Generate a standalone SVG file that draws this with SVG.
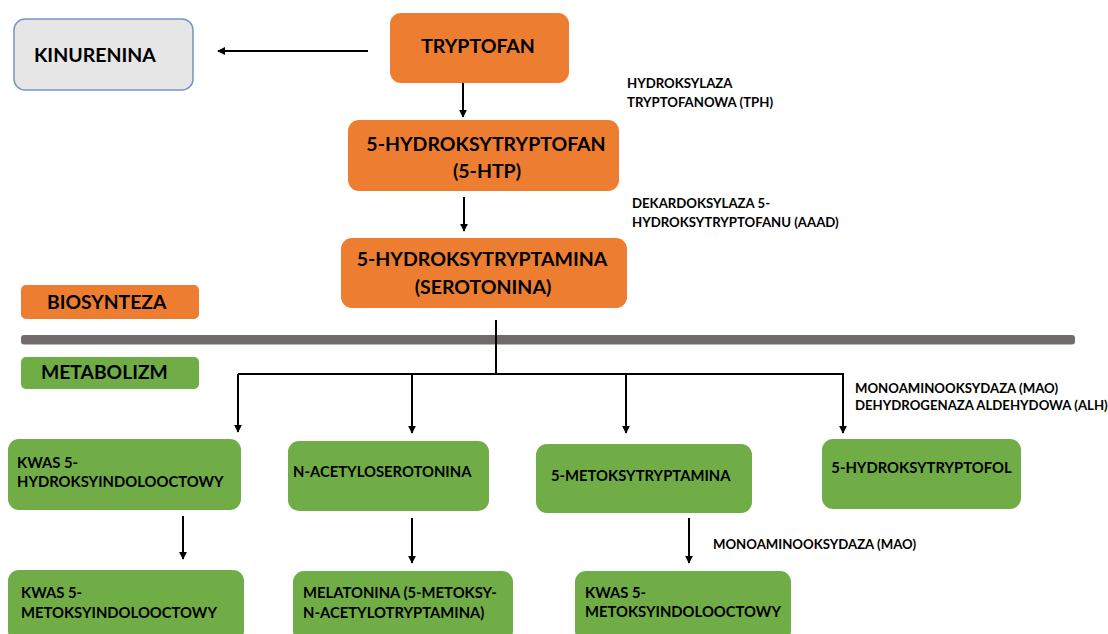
<svg xmlns="http://www.w3.org/2000/svg" width="1108" height="634" viewBox="0 0 1108 634">
<defs>
<marker id="ah" viewBox="0 0 10 10" refX="9" refY="5" markerWidth="4" markerHeight="4" orient="auto" markerUnits="strokeWidth">
<path d="M0,0 L10,5 L0,10 z" fill="#000"/>
</marker>
<style>
.o{fill:#ED7D31}
.g{fill:#70AD47}
.t{font-family:Lato,"Liberation Sans",sans-serif;font-weight:bold;fill:#000}
.big{font-size:19.5px}
.hdr{font-size:19.3px}
.mid{font-size:14.8px}
.sm{font-size:13.2px}
.c{stroke:#000;stroke-width:2;fill:none}
.a{marker-end:url(#ah)}
</style>
</defs>
<rect width="1108" height="634" fill="#fff"/>
<g id="kinurenina">
<rect x="14" y="19" width="179" height="71" rx="11" fill="#E7E6E6" stroke="#7096C4" stroke-width="1.5"/>
<text class="t big" x="34" y="62">KINURENINA</text>
</g>
<g id="tryptofan">
<rect class="o" x="390" y="13" width="179" height="70" rx="11"/>
<text class="t big" x="478" y="53" text-anchor="middle">TRYPTOFAN</text>
</g>
<g id="htp">
<rect class="o" x="348" y="120" width="271" height="71" rx="11"/>
<text class="t big" x="486" y="151" text-anchor="middle">5-HYDROKSYTRYPTOFAN</text>
<text class="t big" x="487" y="178" text-anchor="middle">(5-HTP)</text>
</g>
<g id="serotonina">
<rect class="o" x="341" y="238" width="286" height="70" rx="11"/>
<text class="t big" x="482" y="266" text-anchor="middle">5-HYDROKSYTRYPTAMINA</text>
<text class="t big" x="483" y="294" text-anchor="middle">(SEROTONINA)</text>
</g>
<g id="label-tph">
<text class="t sm" x="627" y="88">HYDROKSYLAZA</text>
<text class="t sm" x="627" y="107">TRYPTOFANOWA (TPH)</text>
</g>
<g id="label-aaad">
<text class="t sm" x="632" y="208">DEKARDOKSYLAZA 5-</text>
<text class="t sm" x="632" y="227">HYDROKSYTRYPTOFANU (AAAD)</text>
</g>
<g id="biosynteza">
<rect class="o" x="21" y="285" width="178" height="34" rx="5"/>
<text class="t hdr" x="47" y="309">BIOSYNTEZA</text>
</g>
<g id="divider">
<rect x="21" y="335" width="1054" height="9.5" rx="3" fill="#716C6B"/>
</g>
<g id="metabolizm">
<rect class="g" x="21" y="357" width="178" height="32" rx="5"/>
<text class="t hdr" x="41" y="379">METABOLIZM</text>
</g>
<g id="label-mao-alh">
<text class="t sm" x="855" y="393">MONOAMINOOKSYDAZA (MAO)</text>
<text class="t sm" x="855" y="410">DEHYDROGENAZA ALDEHYDOWA (ALH)</text>
</g>
<g id="kwas-5hiaa">
<rect class="g" x="8" y="439" width="233" height="71" rx="11"/>
<text class="t mid" x="17" y="468">KWAS 5-</text>
<text class="t mid" x="17" y="487">HYDROKSYINDOLOOCTOWY</text>
</g>
<g id="n-acetyloserotonina">
<rect class="g" x="288" y="441" width="201" height="70" rx="11"/>
<text class="t mid" x="293" y="477">N-ACETYLOSEROTONINA</text>
</g>
<g id="metoksytryptamina">
<rect class="g" x="536" y="444" width="216" height="69" rx="11"/>
<text class="t mid" x="551" y="481">5-METOKSYTRYPTAMINA</text>
</g>
<g id="hydroksytryptofol">
<rect class="g" x="822" y="439" width="199" height="70" rx="11"/>
<text class="t mid" x="921.5" y="473" text-anchor="middle">5-HYDROKSYTRYPTOFOL</text>
</g>
<g id="kwas-5miaa-left">
<rect class="g" x="8" y="570" width="236" height="72" rx="11"/>
<text class="t mid" x="21" y="598">KWAS 5-</text>
<text class="t mid" x="21" y="618">METOKSYINDOLOOCTOWY</text>
</g>
<g id="melatonina">
<rect class="g" x="293" y="571" width="220" height="71" rx="11"/>
<text class="t mid" x="303" y="598">MELATONINA (5-METOKSY-</text>
<text class="t mid" x="303" y="618">N-ACETYLOTRYPTAMINA)</text>
</g>
<g id="kwas-5miaa-right">
<rect class="g" x="575" y="571" width="216" height="71" rx="11"/>
<text class="t mid" x="585" y="598">KWAS 5-</text>
<text class="t mid" x="585" y="617">METOKSYINDOLOOCTOWY</text>
</g>
<g id="label-mao">
<text class="t sm" x="713" y="549">MONOAMINOOKSYDAZA (MAO)</text>
</g>
<g id="connectors">
<line class="c a" x1="368" y1="51" x2="218" y2="51"/>
<line class="c a" x1="463" y1="83" x2="463" y2="117"/>
<line class="c a" x1="464" y1="197" x2="464" y2="231"/>
<polyline class="c" points="496,320 496,374"/>
<polyline class="c" points="238,374 843,374"/>
<line class="c a" x1="238" y1="374" x2="238" y2="432"/>
<line class="c a" x1="412" y1="374" x2="412" y2="433"/>
<line class="c a" x1="626" y1="374" x2="626" y2="433"/>
<line class="c a" x1="843" y1="373" x2="843" y2="433"/>
<line class="c a" x1="183" y1="516" x2="183" y2="559"/>
<line class="c a" x1="412" y1="518" x2="412" y2="563"/>
<line class="c a" x1="689" y1="518" x2="689" y2="563"/>
</g>
</svg>
